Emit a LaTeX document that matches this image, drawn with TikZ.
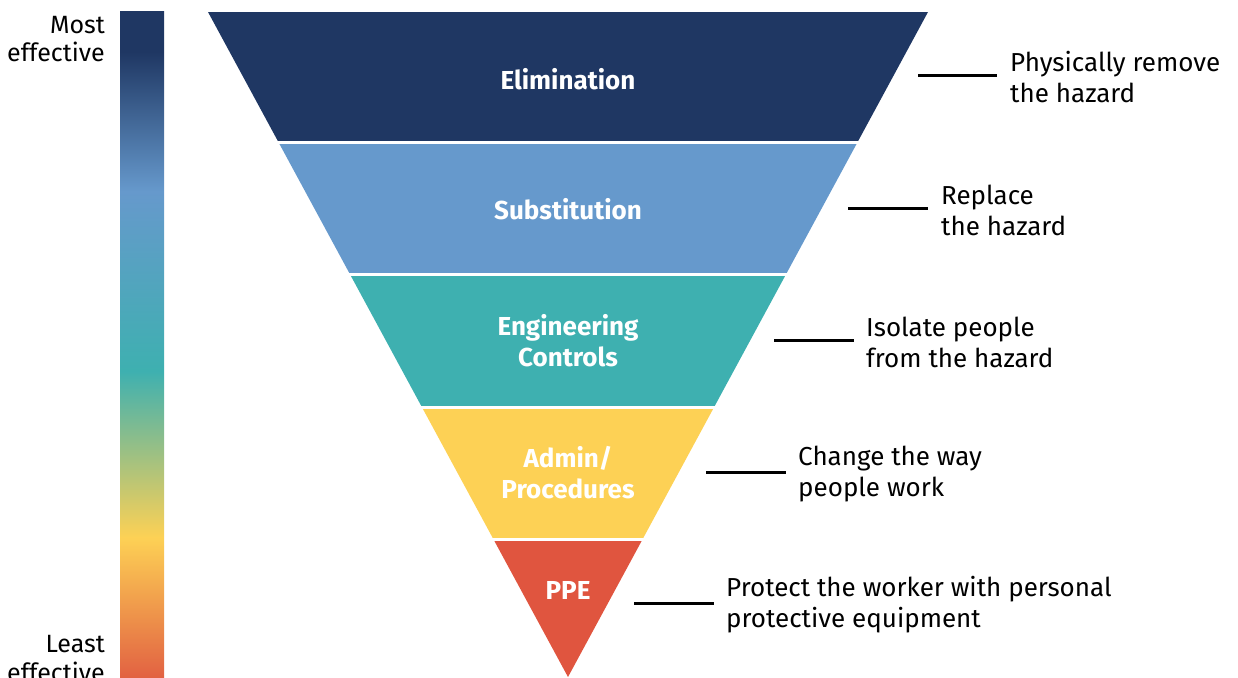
\documentclass[tikz,border=0pt]{standalone}
\usepackage{fontspec}
\setmainfont{Fira Sans}
\definecolor{elimn}{RGB}{31,55,99}
\definecolor{subb}{RGB}{102,153,204}
\definecolor{engt}{RGB}{62,176,176}
\definecolor{admy}{RGB}{253,209,85}
\definecolor{pper}{RGB}{224,85,63}
\definecolor{barbot}{RGB}{226,98,66}
\pgfdeclareverticalshading{effbar}{100bp}{color(0bp)=(barbot); color(25bp)=(barbot); color(35.5bp)=(admy); color(48bp)=(engt); color(61.5bp)=(subb); color(72bp)=(elimn); color(100bp)=(elimn)}
\begin{document}
\begin{tikzpicture}[x=1pt,y=-1pt,
  bandlabel/.style={text=white,font=\fontsize{26}{31}\selectfont\bfseries,align=center,inner sep=0pt},
  desc/.style={text=black,font=\fontsize{26}{31}\selectfont,align=left,anchor=west,inner sep=0pt},
  side/.style={text=black,font=\fontsize{25}{29}\selectfont,align=right,inner sep=0pt},
  conn/.style={draw=black,line width=3pt}]
\useasboundingbox (0,0) rectangle (1238,677);
% gradient bar
\fill[shading=effbar] (120,12) rectangle (164,677);
% pyramid bands
\begin{scope}
\clip (208,12) -- (928,12) -- (568,677) -- cycle;
\fill[elimn] (200,12) rectangle (940,141);
\fill[subb] (200,144) rectangle (940,273);
\fill[engt] (200,276) rectangle (940,406);
\fill[admy] (200,408.5) rectangle (940,538);
\fill[pper] (200,541) rectangle (940,680);
\end{scope}
% band labels
\node[bandlabel] (b1) at (568,79) {Elimination};
\node[bandlabel] (b2) at (568,209) {Substitution};
\node[bandlabel] (b3) at (568,341) {Engineering\\Controls};
\node[bandlabel] (b4) at (568,473) {Admin/\\Procedures};
\node[bandlabel] (b5) at (568,590) {PPE};
% side labels
\node[side,anchor=base east] (most) at (105,34) {Most};
\node[side,anchor=base east] (mosteff) at (105,61) {effective};
\node[side,anchor=base east] (least) at (105,652) {Least};
\node[side,anchor=base east] (leasteff) at (105,681) {effective};
% descriptions
\node[desc] (d1) at (1010,77) {Physically remove\\the hazard};
\node[desc] (d2) at (941,210) {Replace\\the hazard};
\node[desc] (d3) at (866,342) {Isolate people\\from the hazard};
\node[desc] (d4) at (798,474) {Change the way\\people work};
\node[desc] (d5) at (726,605) {Protect the worker with personal\\protective equipment};
\coordinate (l1) at (918,75);
\coordinate (l2) at (848,208);
\coordinate (l3) at (774,340);
\coordinate (l4) at (706,472);
\coordinate (l5) at (634,603);
\draw[conn] (l1) -- ([xshift=-13pt]l1 -| d1.west);
\draw[conn] (l2) -- ([xshift=-13pt]l2 -| d2.west);
\draw[conn] (l3) -- ([xshift=-12pt]l3 -| d3.west);
\draw[conn] (l4) -- ([xshift=-12pt]l4 -| d4.west);
\draw[conn] (l5) -- ([xshift=-12pt]l5 -| d5.west);
\end{tikzpicture}
\end{document}
